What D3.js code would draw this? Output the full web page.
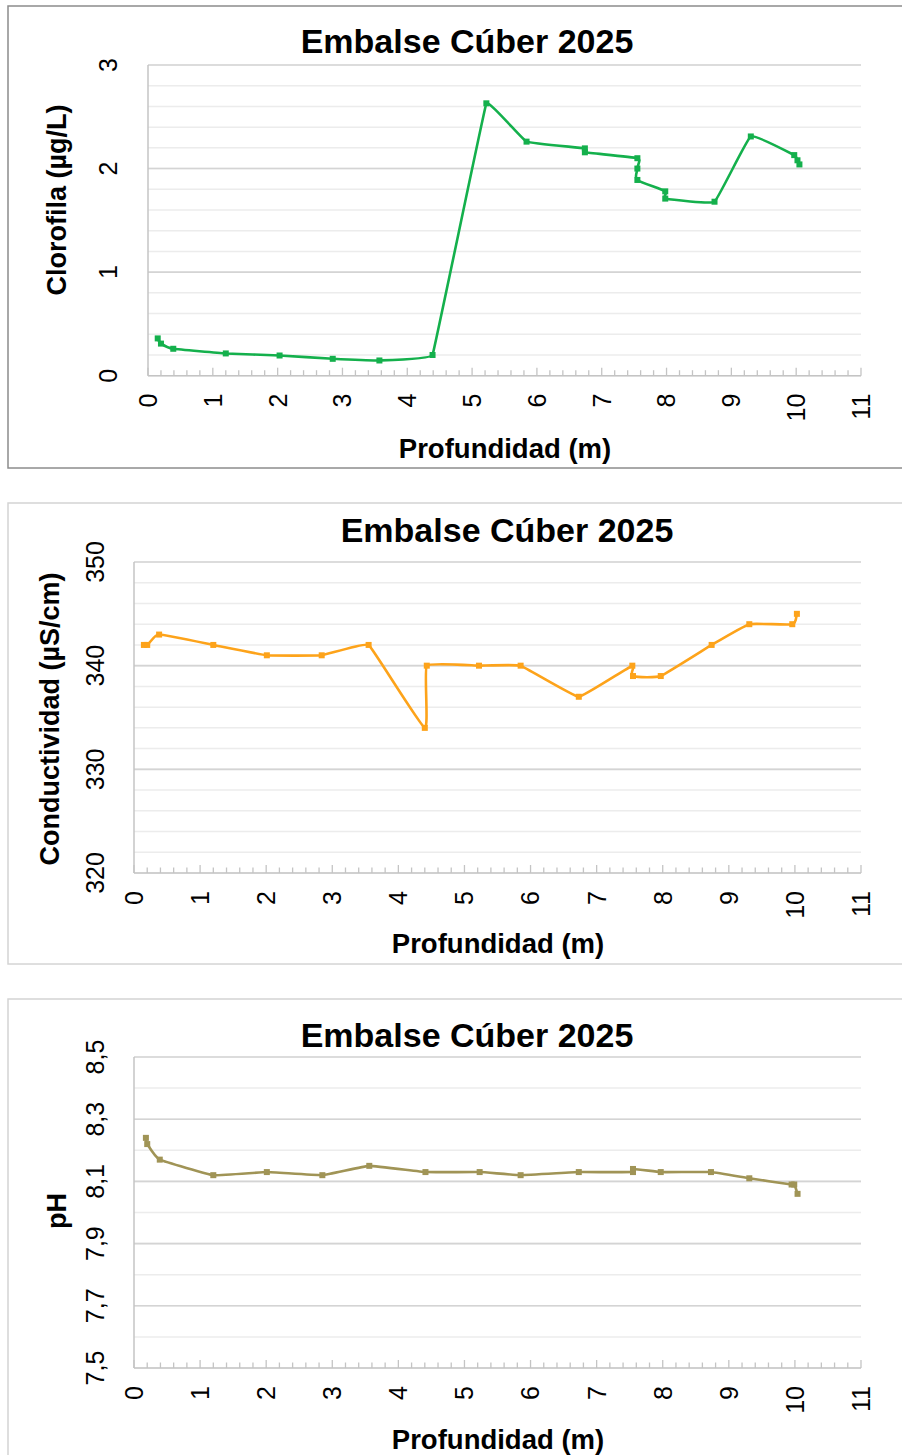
<!DOCTYPE html>
<html><head><meta charset="utf-8">
<script src="https://cdn.jsdelivr.net/npm/d3@7"></script>
<style>body{margin:0;background:#fff} svg{display:block} text{font-family:"Liberation Sans",Arial,sans-serif;fill:#000}</style>
</head><body><svg id="c" width="902" height="1455"></svg>
<script>
// ---- data ----
const depthTicks = [0,1,2,3,4,5,6,7,8,9,10,11];
const chlDepth = [0.15,0.2,0.39,1.2,2.03,2.85,3.57,4.39,5.22,5.84,6.74,6.74,7.55,7.55,7.55,7.98,7.98,8.74,9.30,9.97,10.02,10.05];
const chlValue = [0.36,0.31,0.26,0.215,0.195,0.163,0.147,0.2,2.63,2.26,2.195,2.157,2.10,2.0,1.89,1.78,1.71,1.68,2.31,2.13,2.08,2.04];
const condDepth = [0.15,0.2,0.38,1.2,2.01,2.84,3.55,4.40,4.43,5.22,5.85,6.73,7.54,7.55,7.97,8.74,9.31,9.96,10.03];
const condValue = [342,342,343,342,341,341,342,334,340,340,340,337,340,339,339,342,344,344,345];
const phDepth = [0.18,0.2,0.39,1.2,2.01,2.85,3.56,4.41,5.23,5.85,6.73,7.55,7.55,7.97,8.73,9.31,9.95,9.99,10.04];
const phValue = [8.24,8.22,8.17,8.12,8.13,8.12,8.15,8.13,8.13,8.12,8.13,8.13,8.14,8.13,8.13,8.11,8.09,8.09,8.06];
const chlTicks = [0,1,2,3];
const condTicks = [320,330,340,350];
const phTicks = [7.5,7.7,7.9,8.1,8.3,8.5];
const titleText = "Embalse Cúber 2025";
const xTitleText = "Profundidad (m)";
const yTitleTexts = ["Clorofila (µg/L)", "Conductividad (µS/cm)", "pH"];

// ---- layout ----
const charts = [
 {frame:{x:8,y:6,w:940,h:462,stroke:"#8c8c8c",sw:1.5}, plot:{l:148,r:861,t:65,b:375.7}, yDomain:[0,3], minorStep:0.2, ticks:chlTicks,
  fmt:d=>String(d), depth:chlDepth, values:chlValue, color:"#14b04c", title:{x:467,y:53}, xt:{x:505,y:458}, yt:{x:66,y:200}, ylab:108, yTitle:yTitleTexts[0]},
 {frame:{x:8,y:503,w:940,h:461,stroke:"#d4d4d4",sw:1.5}, plot:{l:134,r:861,t:562,b:873}, yDomain:[320,350], minorStep:2, ticks:condTicks,
  fmt:d=>String(d), depth:condDepth, values:condValue, color:"#fda31a", title:{x:507,y:542}, xt:{x:498,y:953}, yt:{x:59,y:719}, ylab:95, yTitle:yTitleTexts[1]},
 {frame:{x:8,y:999,w:940,h:500,stroke:"#d4d4d4",sw:1.5}, plot:{l:134,r:861,t:1057,b:1368}, yDomain:[7.5,8.5], minorStep:0.1, ticks:phTicks,
  fmt:d=>d.toFixed(1).replace(".",","), depth:phDepth, values:phValue, color:"#a09456", title:{x:467,y:1047}, xt:{x:498,y:1449}, yt:{x:66,y:1211}, ylab:95, yTitle:yTitleTexts[2]}
];

// mild spline: Catmull-Rom tangents with clamped control-point length
function clampedSpline(maxLen){
  return function(context){
    let pts;
    return {
      lineStart(){ pts = []; },
      point(x,y){ pts.push([+x,+y]); },
      lineEnd(){
        const n = pts.length; if(!n) return;
        const T = pts.map((p,i)=>{
          const a = pts[Math.max(0,i-1)], b = pts[Math.min(n-1,i+1)];
          let tx=(b[0]-a[0])/6, ty=(b[1]-a[1])/6;
          const L = Math.hypot(tx,ty);
          if(L>maxLen){ tx*=maxLen/L; ty*=maxLen/L; }
          return [tx,ty];
        });
        context.moveTo(pts[0][0],pts[0][1]);
        for(let i=0;i<n-1;i++){
          const p=pts[i], q=pts[i+1];
          const seg = Math.hypot(q[0]-p[0],q[1]-p[1]);
          const s1 = Math.min(1, 0.45*seg/(Math.hypot(T[i][0],T[i][1])||1));
          const s2 = Math.min(1, 0.45*seg/(Math.hypot(T[i+1][0],T[i+1][1])||1));
          context.bezierCurveTo(p[0]+T[i][0]*s1,p[1]+T[i][1]*s1,q[0]-T[i+1][0]*s2,q[1]-T[i+1][1]*s2,q[0],q[1]);
        }
      },
      areaStart(){}, areaEnd(){}
    };
  };
}

const svg = d3.select("#c");
const tickFs = 25, capH = tickFs*0.716;

charts.forEach(c => {
  const g = svg.append("g");
  g.append("rect").attr("x",c.frame.x).attr("y",c.frame.y).attr("width",c.frame.w).attr("height",c.frame.h)
    .attr("fill","#fff").attr("stroke",c.frame.stroke).attr("stroke-width",c.frame.sw);
  const x = d3.scaleLinear().domain([0,11]).range([c.plot.l,c.plot.r]);
  const y = d3.scaleLinear().domain(c.yDomain).range([c.plot.b,c.plot.t]);
  const n = Math.round((c.yDomain[1]-c.yDomain[0])/c.minorStep);
  const minor = d3.range(n+1).map(i => c.yDomain[0] + i*c.minorStep);
  g.append("g").selectAll("line").data(minor).join("line")
    .attr("x1",c.plot.l).attr("x2",c.plot.r).attr("y1",d=>y(d)).attr("y2",d=>y(d))
    .attr("stroke","#ececec").attr("stroke-width",1.5);
  g.append("g").selectAll("line").data(c.ticks.slice(1)).join("line")
    .attr("x1",c.plot.l).attr("x2",c.plot.r).attr("y1",d=>y(d)).attr("y2",d=>y(d))
    .attr("stroke","#d4d4d4").attr("stroke-width",1.6);
  g.append("line").attr("x1",c.plot.l).attr("x2",c.plot.l).attr("y1",c.plot.t).attr("y2",c.plot.b).attr("stroke","#c4c4c4").attr("stroke-width",1.5);
  g.append("line").attr("x1",c.plot.l).attr("x2",c.plot.r).attr("y1",c.plot.b).attr("y2",c.plot.b).attr("stroke","#c4c4c4").attr("stroke-width",1.5);
  const xMinor = d3.range(56).map(i => i*0.2);
  g.append("g").selectAll("line").data(xMinor).join("line")
    .attr("x1",d=>x(d)).attr("x2",d=>x(d)).attr("y1",c.plot.b)
    .attr("y2",(d,i)=> i%5===0 ? c.plot.b-8 : c.plot.b-5.5)
    .attr("stroke","#c4c4c4").attr("stroke-width",1.3);
  g.append("g").selectAll("text").data(depthTicks).join("text")
    .attr("transform",d=>`translate(${x(d)+capH/2},${c.plot.b+18}) rotate(-90)`)
    .attr("text-anchor","end").attr("font-size",tickFs).text(d=>d);
  g.append("g").selectAll("text").data(c.ticks).join("text")
    .attr("transform",d=>`translate(${c.ylab+capH/2},${y(d)}) rotate(-90)`)
    .attr("text-anchor","middle").attr("font-size",tickFs).text(c.fmt);
  g.append("text").attr("x",c.title.x).attr("y",c.title.y).attr("text-anchor","middle")
    .attr("font-size",34).attr("font-weight","bold").text(titleText);
  g.append("text").attr("x",c.xt.x).attr("y",c.xt.y).attr("text-anchor","middle")
    .attr("font-size",27.5).attr("font-weight","bold").text(xTitleText);
  g.append("text").attr("transform",`translate(${c.yt.x},${c.yt.y}) rotate(-90)`).attr("text-anchor","middle")
    .attr("font-size",27).attr("font-weight","bold").text(c.yTitle);
  const pts = c.depth.map((d,i)=>[d,c.values[i]]);
  const line = d3.line().x(d=>x(d[0])).y(d=>y(d[1])).curve(clampedSpline(4.5));
  g.append("path").attr("d",line(pts)).attr("fill","none").attr("stroke",c.color).attr("stroke-width",2.6).attr("stroke-linejoin","round");
  g.append("g").selectAll("rect").data(pts).join("rect")
    .attr("x",d=>x(d[0])-3).attr("y",d=>y(d[1])-3).attr("width",6).attr("height",6).attr("fill",c.color);
});
</script></body></html>
